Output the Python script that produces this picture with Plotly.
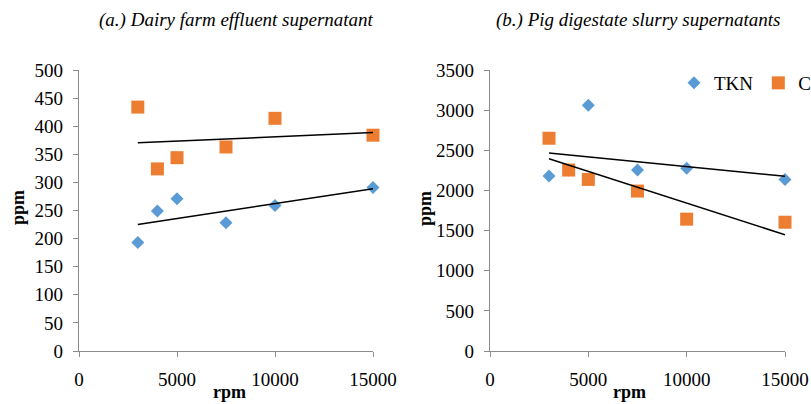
import numpy as np
import plotly.graph_objects as go

# Panel (a) Dairy farm effluent supernatant
rpm_a = [3000, 4000, 5000, 7500, 10000, 15000]
tkn_a = [193, 249, 271, 228, 259, 291]
c_a = [434, 324, 344, 363, 414, 384]

# Panel (b) Pig digestate slurry supernatants
rpm_b = [3000, 4000, 5000, 7500, 10000, 15000]
tkn_b = [2179, 2254, 3062, 2254, 2275, 2137]
c_b = [2650, 2254, 2137, 1992, 1642, 1604]

series_names = ["TKN", "C"]
x_ticks = [0, 5000, 10000, 15000]
x_tick_text = ["0", "5000", "10000", "15000"]
y_ticks_a = list(range(0, 501, 50))
y_ticks_b = list(range(0, 3501, 500))

BLUE = "#5B9BD5"
ORANGE = "#ED7D31"
W, H = 811, 404
SERIF = "Liberation Serif, Times New Roman, serif"

fig = go.Figure()


def trend(x, y):
    k, b = np.polyfit(x, y, 1)
    xs = np.array([min(x), max(x)])
    return xs, k * xs + b


def add_panel(tr, yr, rpm, tkn, c, legend):
    fig.add_trace(go.Scatter(x=rpm, y=tkn, mode="markers", name=series_names[0],
                             marker=dict(symbol="diamond", size=10, color=BLUE),
                             xaxis=tr, yaxis=yr, showlegend=legend, cliponaxis=False))
    fig.add_trace(go.Scatter(x=rpm, y=c, mode="markers", name=series_names[1],
                             marker=dict(symbol="square", size=13, color=ORANGE),
                             xaxis=tr, yaxis=yr, showlegend=legend, cliponaxis=False))
    for s in (tkn, c):
        xs, ys = trend(rpm, s)
        fig.add_trace(go.Scatter(x=xs, y=ys, mode="lines",
                                 line=dict(color="black", width=1.5),
                                 xaxis=tr, yaxis=yr, showlegend=False,
                                 hoverinfo="skip", cliponaxis=False))


add_panel("x", "y", rpm_a, tkn_a, c_a, False)
add_panel("x2", "y2", rpm_b, tkn_b, c_b, True)

ydom = [1 - 351 / H, 1 - 70 / H]
axis_common = dict(showgrid=False, zeroline=False, showline=True,
                   linecolor="#8c8c8c", linewidth=1.2, ticks="outside",
                   ticklen=5, tickcolor="#8c8c8c", automargin=False,
                   tickfont=dict(family=SERIF, size=19, color="black"),
                   ticklabelstandoff=6)

fig.update_layout(
    width=W, height=H,
    margin=dict(l=0, r=0, t=0, b=0, autoexpand=False),
    paper_bgcolor="white", plot_bgcolor="white",
    xaxis=dict(domain=[79 / W, 373 / W], range=[0, 15000], tickvals=x_ticks,
               ticktext=x_tick_text, anchor="y", **axis_common),
    yaxis=dict(domain=ydom, range=[0, 500], tickvals=y_ticks_a, anchor="x",
               **axis_common),
    xaxis2=dict(domain=[490 / W, 785 / W], range=[0, 15000], tickvals=x_ticks,
                ticktext=x_tick_text, anchor="y2", **axis_common),
    yaxis2=dict(domain=ydom, range=[0, 3500], tickvals=y_ticks_b, anchor="x2",
                **axis_common),
    legend=dict(orientation="h", x=674 / W, y=1 - 64 / H, xanchor="left",
                yanchor="top", bgcolor="rgba(0,0,0,0)",
                font=dict(family=SERIF, size=19, color="black"),
                itemwidth=30, tracegroupgap=0),
    showlegend=True,
)

ann = [
    dict(text="<i>(a.) Dairy farm effluent supernatant</i>", x=236 / W, y=1 - 20 / H,
         font=dict(family=SERIF, size=19)),
    dict(text="<i>(b.) Pig digestate slurry supernatants</i>", x=638 / W, y=1 - 20 / H,
         font=dict(family=SERIF, size=19)),
    dict(text="<b>rpm</b>", x=229 / W, y=1 - 392 / H, font=dict(family=SERIF, size=18)),
    dict(text="<b>rpm</b>", x=629 / W, y=1 - 392 / H, font=dict(family=SERIF, size=18)),
    dict(text="<b>ppm</b>", x=18 / W, y=1 - 208 / H, textangle=-90,
         font=dict(family=SERIF, size=18)),
    dict(text="<b>ppm</b>", x=425 / W, y=1 - 208 / H, textangle=-90,
         font=dict(family=SERIF, size=18)),
]
for a in ann:
    a.update(xref="paper", yref="paper", showarrow=False,
             xanchor="center", yanchor="middle")
    a["font"]["color"] = "black"
fig.update_layout(annotations=ann)

fig.write_html("out.html")
